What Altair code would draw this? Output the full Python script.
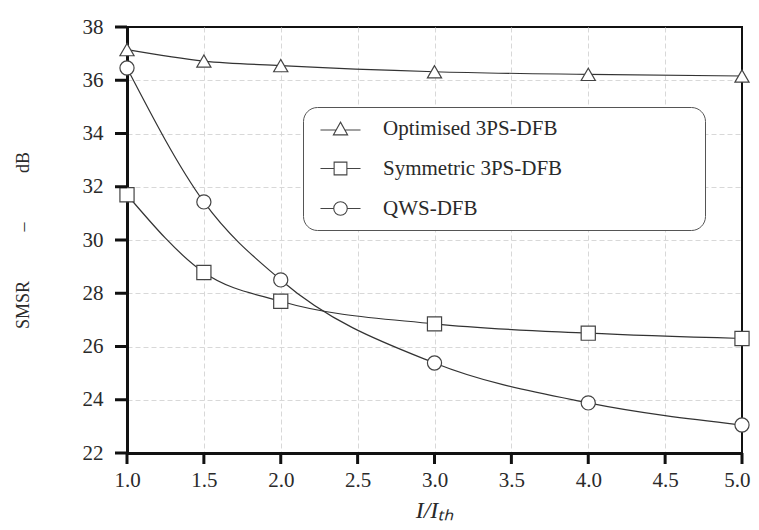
import altair as alt
import pandas as pd

x_vals = [1.0, 1.5, 2.0, 3.0, 4.0, 5.0]
optimised = [37.15, 36.72, 36.55, 36.32, 36.22, 36.16]
symmetric = [31.70, 28.78, 27.70, 26.85, 26.50, 26.30]
qws = [36.46, 31.43, 28.50, 25.38, 23.88, 23.05]
series_names = ["Optimised 3PS-DFB", "Symmetric 3PS-DFB", "QWS-DFB"]
x_ticks = [1.0, 1.5, 2.0, 2.5, 3.0, 3.5, 4.0, 4.5, 5.0]
y_ticks = [22, 24, 26, 28, 30, 32, 34, 36, 38]

rows = []
for name, vals in zip(series_names, [optimised, symmetric, qws]):
    for xv, yv in zip(x_vals, vals):
        rows.append({"x": xv, "y": yv, "series": name})
df = pd.DataFrame(rows)
xt_df = pd.DataFrame({"x": x_ticks})
yt_df = pd.DataFrame({"y": y_ticks})

W, H = 615, 426
FONT = "Liberation Serif"
TXT = "#2a2a2a"
NB = "\u00a0"

x_grid_op = {"condition": {"test": "datum.value <= 1 || datum.value >= 5", "value": 0}, "value": 1}
y_grid_op = {"condition": {"test": "datum.value <= 22 || datum.value >= 38", "value": 0}, "value": 1}
x_lab_align = {"condition": {"test": "datum.value >= 5", "value": "right"}, "value": "center"}
x_lab_off = {"condition": {"test": "datum.value >= 5", "value": 8}, "value": 0}

x_scale = alt.Scale(domain=[1, 5], nice=False)
y_scale = alt.Scale(domain=[22, 38], nice=False, zero=False)

x_enc = alt.X("x:Q", scale=x_scale,
              axis=alt.Axis(values=x_ticks, format=".1f", title="I/Iₜₕ",
                            titleFontStyle="italic", titleFontSize=24,
                            titleFontWeight="normal", titlePadding=8,
                            labelFontSize=21, labelPadding=16, labelFlush=False,
                            labelAlign=x_lab_align, labelOffset=x_lab_off,
                            ticks=False, gridOpacity=x_grid_op))
y_enc = alt.Y("y:Q", scale=y_scale,
              axis=alt.Axis(values=y_ticks, format="d",
                            title="SMSR" + NB * 11 + "–" + NB * 11 + "dB",
                            titleFontSize=18, titleFontWeight="normal",
                            titlePadding=50, labelFontSize=21, labelPadding=24,
                            labelFlush=False, ticks=False, gridOpacity=y_grid_op))

lines = alt.Chart(df).mark_line(interpolate="monotone", color="#333", strokeWidth=1.2).encode(
    x=x_enc, y=y_enc, detail="series:N")

x_tick_marks = alt.Chart(xt_df).mark_tick(color="#111", orient="vertical", size=11,
                                          thickness=3, opacity=1, yOffset=5.5,
                                          clip=False).encode(
    x="x:Q", y=alt.datum(22, type="quantitative"))
y_tick_marks = alt.Chart(yt_df).mark_tick(color="#111", orient="horizontal", size=12,
                                          thickness=3, opacity=1, xOffset=-6,
                                          clip=False).encode(
    y="y:Q", x=alt.datum(1, type="quantitative"))

points = alt.Chart(df).mark_point(filled=True, fill="white", stroke="#444",
                                  strokeWidth=1.2, size=200, opacity=1).encode(
    x="x:Q", y="y:Q",
    shape=alt.Shape("series:N", sort=series_names,
                    scale=alt.Scale(domain=series_names,
                                    range=["triangle-up", "square", "circle"]),
                    legend=None))

tri = "M-2.67,0.2 L-0.55,0.2 M0.55,0.2 L2.67,0.2 M0,-0.85 L0.95,0.85 L-0.95,0.85 Z"
sq = "M-2.67,0 L-0.85,0 M0.85,0 L2.67,0 M-0.85,-0.85 L0.85,-0.85 L0.85,0.85 L-0.85,0.85 Z"
circ = "M-2.67,0 L-0.9,0 M0.9,0 L2.67,0 M0.9,0 A0.9,0.9 0 1,1 -0.9,0 A0.9,0.9 0 1,1 0.9,0 Z"

pad = NB * 25 + "\u200b"
legend_layer = alt.Chart(df).mark_point(opacity=0, size=225).encode(
    x="x:Q", y="y:Q",
    shape=alt.Shape("series:N", sort=series_names,
                    scale=alt.Scale(domain=series_names, range=[tri, sq, circ]),
                    legend=alt.Legend(title=None, orient="none", legendX=176, legendY=80,
                                      padding=11, cornerRadius=14, strokeColor="#555",
                                      fillColor="white",
                                      symbolSize=225, symbolStrokeColor="#444",
                                      symbolFillColor="white", symbolStrokeWidth=1.1,
                                      symbolOpacity=1, symbolOffset=16,
                                      labelOffset=32, labelFontSize=21, labelFont=FONT,
                                      labelColor=TXT, labelLimit=700,
                                      labelExpr="datum.label + '" + pad + "'",
                                      rowPadding=18)))

chart = alt.layer(lines, points, legend_layer, x_tick_marks, y_tick_marks).resolve_scale(
    shape="independent").properties(
    width=W, height=H,
    autosize=alt.AutoSizeParams(type="none"),
    padding={"left": 119, "top": 19, "right": 9, "bottom": 69},
    background="white",
).configure_axis(
    labelFont=FONT, titleFont=FONT, labelColor=TXT, titleColor=TXT,
    domainColor="#111", domainWidth=3,
    grid=True, gridColor="#d8d8d8", gridDash=[5, 3], gridWidth=1,
).configure_view(stroke="#111", strokeWidth=2)

chart.save("out.html", embed_options={"renderer": "svg", "actions": False})
